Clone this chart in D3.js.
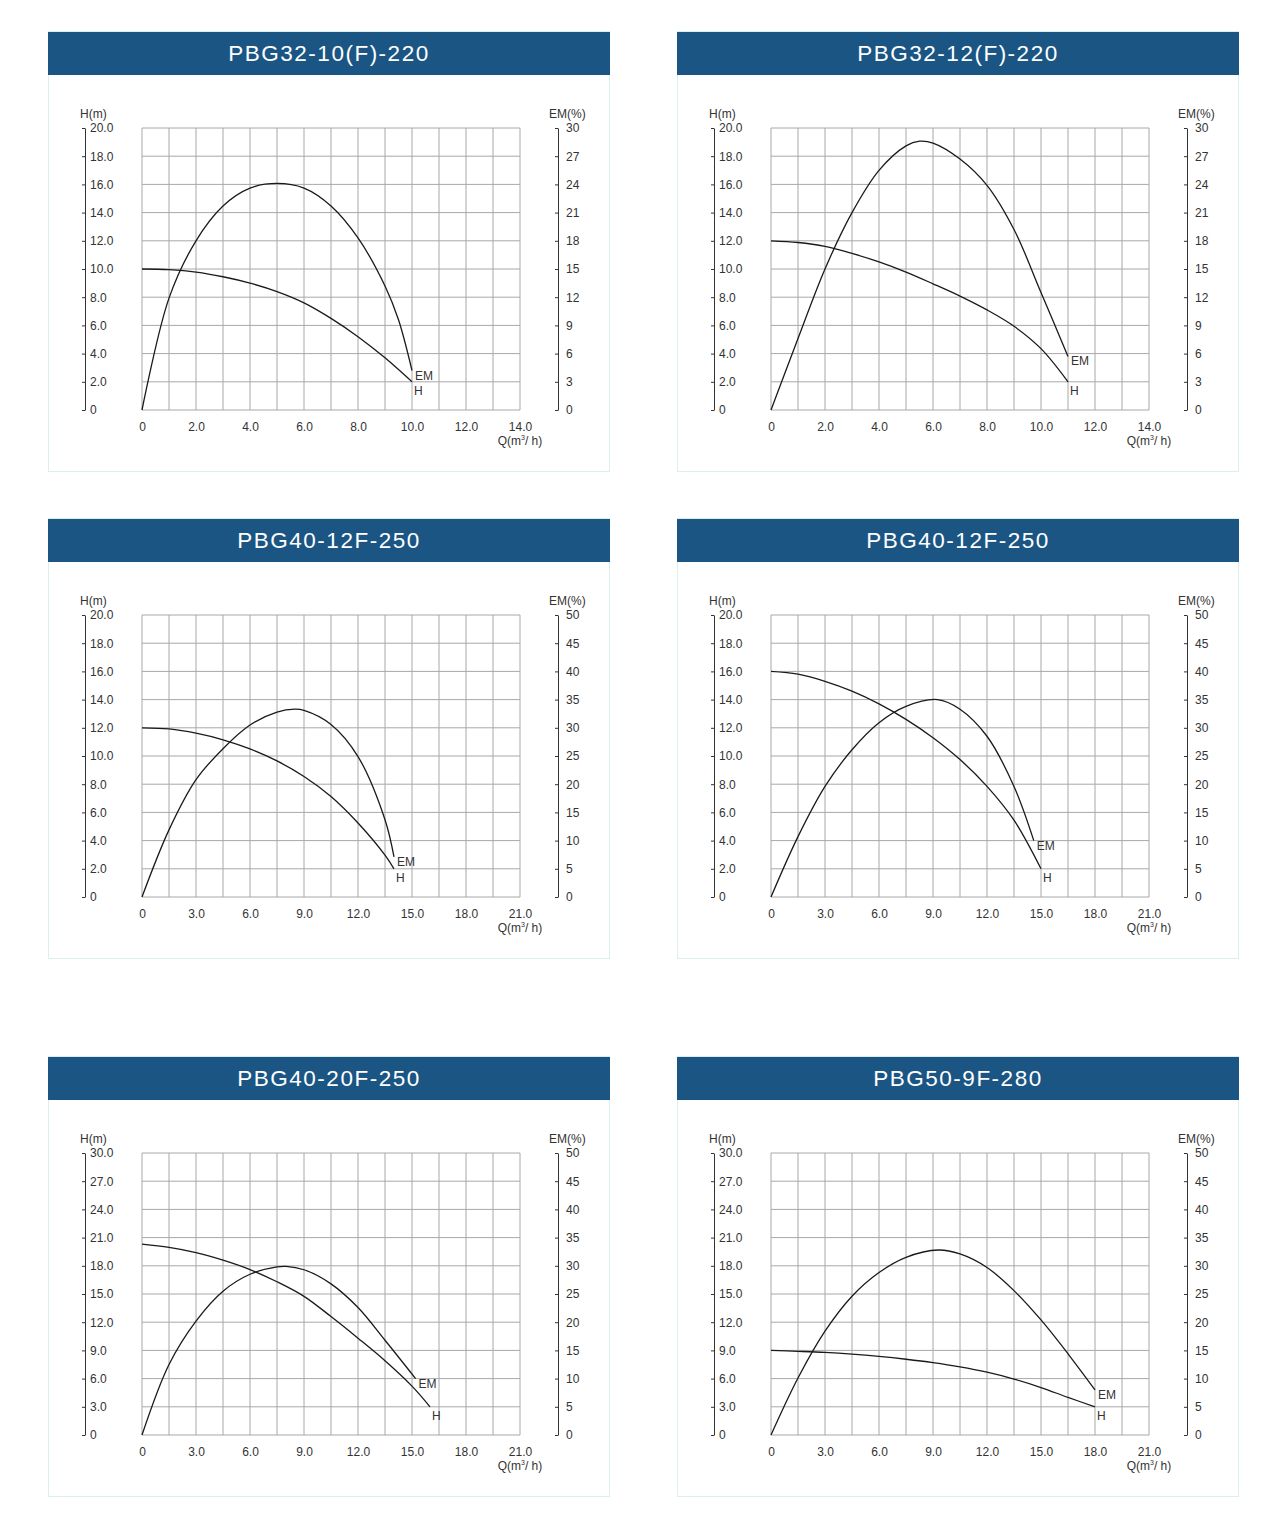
<!DOCTYPE html>
<html>
<head>
<meta charset="utf-8">
<script src="https://cdn.jsdelivr.net/npm/d3@7"></script>
<style>
  body { margin: 0; background: #fff; }
  svg { display: block; }
  text { font-family: "Liberation Sans", Arial, sans-serif; }
</style>
</head>
<body>
<svg id="chart"></svg>
<script>
/* chart data */
const titles = ["PBG32-10(F)-220", "PBG32-12(F)-220", "PBG40-12F-250",
                "PBG40-12F-250", "PBG40-20F-250", "PBG50-9F-280"];
const qMax = [14, 14, 21, 21, 21, 21];
const hMax = [20, 20, 20, 20, 30, 30];
const emMax = [30, 30, 50, 50, 50, 50];

// H curves: [Q, H]
const hCurves = [
  [[0,10],[1,9.95],[2,9.78],[3,9.45],[4,9.0],[5,8.4],[6,7.6],[7,6.5],[8,5.2],[9,3.7],[10,2.0]],
  [[0,12],[1,11.88],[2,11.6],[3,11.1],[4,10.5],[5,9.78],[6,8.95],[7,8.08],[8,7.1],[9,5.94],[10,4.35],[11,2.0]],
  [[0,12],[1.5,11.92],[3,11.62],[4.5,11.15],[6,10.5],[7.5,9.65],[9,8.55],[10.5,7.13],[12,5.25],[13.5,2.97],[14,2.0]],
  [[0,16],[1.5,15.8],[3,15.3],[4.5,14.6],[6,13.7],[7.5,12.6],[9,11.3],[10.5,9.75],[12,7.85],[13.5,5.45],[15,2.0]],
  [[0,20.3],[1.5,19.95],[3,19.4],[4.5,18.6],[6,17.6],[7.5,16.3],[9,14.75],[10.5,12.6],[12,10.3],[13.5,7.9],[15,5.2],[16,3.0]],
  [[0,9.0],[1.5,8.9],[3,8.78],[4.5,8.6],[6,8.36],[7.5,8.06],[9,7.7],[10.5,7.25],[12,6.68],[13.5,5.95],[15,5.05],[16.5,4.0],[18,3.0]]
];

// EM curves: [Q, EM%]
const emCurves = [
  [[0,0],[1,11.9],[2,18.0],[3,21.7],[4,23.6],[5,24.1],[6,23.6],[7,21.7],[8,18.3],[9,13.2],[9.5,9.6],[10,4.2]],
  [[0,0],[1,7.6],[2,15.0],[3,21.0],[4,25.5],[5,28.1],[5.5,28.6],[6,28.4],[7,26.7],[8,23.9],[9,19.2],[10,12.5],[11,5.7]],
  [[0,0],[1.5,11.9],[3,20.8],[4.5,26.3],[6,30.5],[7.5,32.8],[8.5,33.3],[9,33.1],[10.5,30.6],[12,24.9],[13.5,13.7],[14,7.1]],
  [[0,0],[1.5,10.7],[3,19.6],[4.5,26.1],[6,30.9],[7.5,33.8],[9.25,35.0],[10.5,33.3],[12,28.5],[13.5,19.6],[14.6,10.0]],
  [[0,0],[1.5,12.5],[3,20.2],[4.5,25.5],[6,28.5],[7.5,29.8],[8,29.9],[9,29.3],[10.5,26.8],[12,22.6],[13.5,16.8],[15.2,10.0]],
  [[0,0],[1.5,10.1],[3,18.4],[4.5,24.6],[6,28.8],[7.5,31.5],[9.3,32.8],[10.5,32.1],[12,29.7],[13.5,25.6],[15,20.4],[16.5,14.4],[18,8.0]]
];

// tick values
const qTicks14 = [0, 2, 4, 6, 8, 10, 12, 14];
const qTicks21 = [0, 3, 6, 9, 12, 15, 18, 21];
const hTicks20 = [0, 2, 4, 6, 8, 10, 12, 14, 16, 18, 20];
const hTicks30 = [0, 3, 6, 9, 12, 15, 18, 21, 24, 27, 30];
const emTicks30 = [0, 3, 6, 9, 12, 15, 18, 21, 24, 27, 30];
const emTicks50 = [0, 5, 10, 15, 20, 25, 30, 35, 40, 45, 50];

/* layout */
const W = 1288, H = 1525;
const panelX = [48, 677];
const panelY = [31, 518, 1056];
const panelW = 562, panelH = 441, headH = 43;
const plotL = 94, plotT = 97, plotW = 378, plotH = 282;

const svg = d3.select('#chart').attr('width', W).attr('height', H);
svg.append('rect').attr('width', W).attr('height', H).attr('fill', '#fff');

const fmt1 = v => v === 0 ? "0" : v.toFixed(1);

titles.forEach((title, i) => {
  const px = panelX[i % 2], py = panelY[Math.floor(i / 2)];
  const g = svg.append('g').attr('transform', `translate(${px},${py})`);

  g.append('rect')
    .attr('x', 0.5).attr('y', 0.5)
    .attr('width', panelW - 1).attr('height', panelH - 1)
    .attr('fill', '#fff').attr('stroke', '#dcefef');
  g.append('rect')
    .attr('x', 0).attr('y', 1)
    .attr('width', panelW).attr('height', headH)
    .attr('fill', '#1a5584');
  g.append('text')
    .attr('x', panelW / 2).attr('y', 1 + headH / 2)
    .attr('text-anchor', 'middle').attr('dominant-baseline', 'central')
    .attr('fill', '#fff').attr('font-size', 22.5).attr('letter-spacing', 1.5)
    .text(title);

  const plot = g.append('g').attr('transform', `translate(${plotL},${plotT})`);

  const x = d3.scaleLinear().domain([0, qMax[i]]).range([0, plotW]);
  const yH = d3.scaleLinear().domain([0, hMax[i]]).range([plotH, 0]);
  const yE = d3.scaleLinear().domain([0, emMax[i]]).range([plotH, 0]);

  const qTicks = qMax[i] === 14 ? qTicks14 : qTicks21;
  const hTicks = hMax[i] === 20 ? hTicks20 : hTicks30;
  const emTicks = emMax[i] === 30 ? emTicks30 : emTicks50;

  // grid
  const cols = d3.range(15).map(k => k * qMax[i] / 14);
  plot.append('g').selectAll('line').data(cols).enter().append('line')
    .attr('x1', d => x(d)).attr('x2', d => x(d))
    .attr('y1', 0).attr('y2', plotH)
    .attr('stroke', '#a8a8a8').attr('stroke-width', 1);
  plot.append('g').selectAll('line').data(hTicks).enter().append('line')
    .attr('x1', 0).attr('x2', plotW)
    .attr('y1', d => yH(d)).attr('y2', d => yH(d))
    .attr('stroke', '#a8a8a8').attr('stroke-width', 1);

  // left H axis
  const axL = plot.append('g').attr('transform', 'translate(-57,0)')
    .call(d3.axisLeft(yH).tickValues(hTicks).tickFormat(fmt1).tickSize(3).tickSizeOuter(0));
  axL.selectAll('text').attr('x', 5).attr('text-anchor', 'start');
  axL.append('text').attr('x', -5).attr('y', -14)
    .attr('dominant-baseline', 'central').attr('text-anchor', 'start')
    .attr('fill', '#333').text('H(m)');

  // right EM axis
  const axR = plot.append('g').attr('transform', `translate(${plotW + 38},0)`)
    .call(d3.axisLeft(yE).tickValues(emTicks).tickFormat(d3.format('d')).tickSize(3).tickSizeOuter(0));
  axR.selectAll('text').attr('x', 8).attr('text-anchor', 'start');
  axR.append('text').attr('x', -9).attr('y', -14)
    .attr('dominant-baseline', 'central').attr('text-anchor', 'start')
    .attr('fill', '#333').text('EM(%)');

  [axL, axR].forEach(a => {
    a.attr('font-size', 12).attr('font-family', null);
    a.selectAll('path, line').attr('stroke', '#333');
    a.selectAll('text').attr('fill', '#333');
  });

  // bottom Q labels
  const axB = plot.append('g').attr('transform', `translate(0,${plotH})`)
    .call(d3.axisBottom(x).tickValues(qTicks).tickFormat(fmt1).tickSize(0).tickPadding(12));
  axB.select('.domain').remove();
  axB.attr('font-size', 12).attr('font-family', null);
  axB.selectAll('text').attr('fill', '#333');
  const ql = plot.append('text')
    .attr('x', plotW).attr('y', plotH + 31)
    .attr('text-anchor', 'middle').attr('dominant-baseline', 'central')
    .attr('font-size', 12).attr('fill', '#333');
  ql.append('tspan').text('Q(m');
  ql.append('tspan').attr('font-size', 7).attr('dy', -4).text('3');
  ql.append('tspan').attr('dy', 4).text('/ h)');

  // curves
  const lineH = d3.line().x(d => x(d[0])).y(d => yH(d[1])).curve(d3.curveCatmullRom.alpha(0.5));
  const lineE = d3.line().x(d => x(d[0])).y(d => yE(d[1])).curve(d3.curveCatmullRom.alpha(0.5));
  plot.append('path').datum(hCurves[i]).attr('d', lineH)
    .attr('fill', 'none').attr('stroke', '#1a1a1a').attr('stroke-width', 1.3);
  plot.append('path').datum(emCurves[i]).attr('d', lineE)
    .attr('fill', 'none').attr('stroke', '#1a1a1a').attr('stroke-width', 1.3);

  const hEnd = hCurves[i][hCurves[i].length - 1];
  const eEnd = emCurves[i][emCurves[i].length - 1];
  plot.append('text')
    .attr('x', x(eEnd[0]) + 3).attr('y', yE(eEnd[1]) + 5)
    .attr('dominant-baseline', 'central').attr('font-size', 12).attr('fill', '#333')
    .text('EM');
  plot.append('text')
    .attr('x', x(hEnd[0]) + 2).attr('y', yH(hEnd[1]) + 9)
    .attr('dominant-baseline', 'central').attr('font-size', 12).attr('fill', '#333')
    .text('H');
});
</script>
</body>
</html>
